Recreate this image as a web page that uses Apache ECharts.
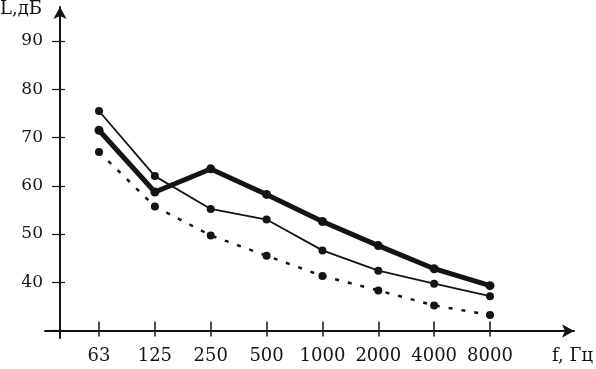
<!DOCTYPE html>
<html>
<head>
<meta charset="utf-8">
<script src="https://cdn.jsdelivr.net/npm/echarts@6/dist/echarts.min.js"></script>
<style>
html,body{margin:0;padding:0;background:#fff;}
#chart{width:596px;height:369px;}
</style>
</head>
<body>
<div id="chart"></div>
<script>
// Frequency bands (Hz)
var categories = ['63', '125', '250', '500', '1000', '2000', '4000', '8000'];
// Sound levels, dB
var thinSeries   = [75.5, 62.0, 55.2, 53.0, 46.6, 42.4, 39.7, 37.1];
var thickSeries  = [71.5, 58.7, 63.5, 58.2, 52.6, 47.6, 42.8, 39.3];
var dottedSeries = [67.0, 55.7, 49.7, 45.5, 41.3, 38.3, 35.2, 33.2];
var yTickMin = 30, yTickMax = 90, yTickStep = 10;
var yAxisTitle = 'L,дБ';
var xAxisTitle = 'f, Гц';

var FONT = '"DejaVu Serif", "Liberation Serif", serif';
var INK = '#141414';

var chart = echarts.init(document.getElementById('chart'), null, {renderer: 'canvas'});
chart.setOption({
  animation: false,
  backgroundColor: '#ffffff',
  textStyle: {fontFamily: FONT, color: INK},
  grid: [
    {left: 45, right: 22, top: 7, bottom: 31},
    {left: 99, right: 106, top: 41, bottom: 38.5}
  ],
  xAxis: [
    {
      gridIndex: 0, type: 'value', min: 0, max: 1, offset: -7,
      axisLine: {show: true, onZero: false, symbol: ['none', 'arrow'], symbolSize: [10, 12],
                 lineStyle: {color: INK, width: 2}},
      axisTick: {show: false}, axisLabel: {show: false}, splitLine: {show: false}
    },
    {
      gridIndex: 1, type: 'category', data: categories, boundaryGap: false, offset: -9,
      axisLine: {show: false, onZero: false},
      axisTick: {show: true, interval: 0, length: 15, lineStyle: {color: INK, width: 1.5}},
      axisLabel: {show: true, interval: 0, margin: 26, fontSize: 18, fontFamily: FONT, color: INK},
      splitLine: {show: false}
    }
  ],
  yAxis: [
    {
      gridIndex: 0, type: 'value', min: 0, max: 1, offset: -15,
      axisLine: {show: true, onZero: false, symbol: ['none', 'arrow'], symbolSize: [10, 12],
                 lineStyle: {color: INK, width: 2}},
      axisTick: {show: false}, axisLabel: {show: false}, splitLine: {show: false}
    },
    {
      gridIndex: 1, type: 'value', min: yTickMin, max: yTickMax, interval: yTickStep, offset: 34,
      axisLine: {show: false, onZero: false},
      axisTick: {show: true, length: 13, lineStyle: {color: INK, width: 1.2}},
      axisLabel: {show: true, margin: 22, fontSize: 17, fontFamily: FONT, color: INK,
                  formatter: function (v) { return v === yTickMin ? '' : String(v); }},
      splitLine: {show: false}
    }
  ],
  series: [
    {
      type: 'line', xAxisIndex: 1, yAxisIndex: 1, data: thinSeries,
      symbol: 'circle', symbolSize: 8, showSymbol: true,
      lineStyle: {color: INK, width: 1.8},
      itemStyle: {color: INK, borderWidth: 0}
    },
    {
      type: 'line', xAxisIndex: 1, yAxisIndex: 1, data: thickSeries,
      symbol: 'circle', symbolSize: 9, showSymbol: true,
      lineStyle: {color: INK, width: 5, join: 'miter'},
      itemStyle: {color: INK, borderWidth: 0}
    },
    {
      type: 'line', xAxisIndex: 1, yAxisIndex: 1, data: dottedSeries,
      symbol: 'circle', symbolSize: 8, showSymbol: true,
      lineStyle: {color: INK, width: 2.5, type: [4, 9]},
      itemStyle: {color: INK, borderWidth: 0}
    }
  ],
  graphic: [
    {type: 'text', x: 0, y: 9,
     style: {text: yAxisTitle, font: '18px ' + FONT, fill: INK, align: 'left', verticalAlign: 'middle'}},
    {type: 'text', x: 552, y: 356.5,
     style: {text: xAxisTitle, font: '18px ' + FONT, fill: INK, align: 'left', verticalAlign: 'middle'}}
  ]
});
</script>
</body>
</html>
